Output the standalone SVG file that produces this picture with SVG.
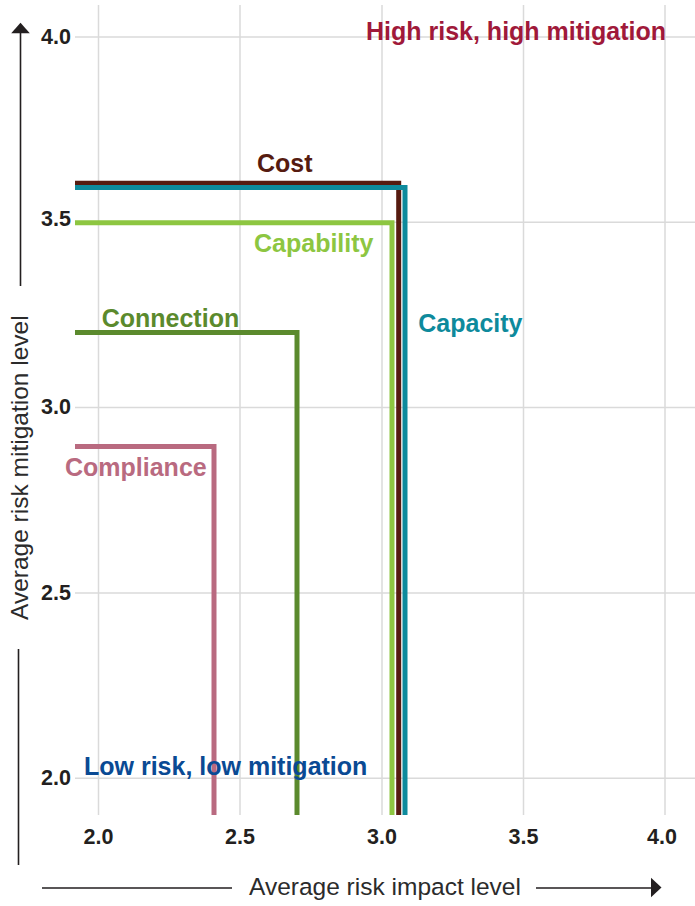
<svg xmlns="http://www.w3.org/2000/svg" width="695" height="906" viewBox="0 0 695 906">
<style>
.grid{stroke:#dadada;stroke-width:1.5;fill:none}
.tick{font-family:"Liberation Sans",Arial,sans-serif;font-weight:bold;font-size:21.5px;fill:#231f20}
.ax{font-family:"Liberation Sans",Arial,sans-serif;font-size:24.5px;fill:#2b2b2b}
.axl{stroke:#231f20;stroke-width:1.6;fill:none}
.lbl{font-family:"Liberation Sans",Arial,sans-serif;font-weight:bold;font-size:25px}
.ser{fill:none;stroke-width:5;stroke-linejoin:miter}
</style>
<rect width="695" height="906" fill="#ffffff"/>
<g id="grid">
<path class="grid" d="M98.5,5V815M240,5V815M382,5V815M523.5,5V815M665,5V815"/>
<path class="grid" d="M75,37H695M75,222.3H695M75,407.6H695M75,593H695M75,778.3H695"/>
</g>
<g id="y-ticks" class="tick" text-anchor="end">
<text x="71" y="44">4.0</text>
<text x="71" y="225.5">3.5</text>
<text x="71" y="414">3.0</text>
<text x="71" y="599.5">2.5</text>
<text x="71" y="785">2.0</text>
</g>
<g id="x-ticks" class="tick" text-anchor="middle">
<text x="98.5" y="844">2.0</text>
<text x="240" y="844">2.5</text>
<text x="382" y="844">3.0</text>
<text x="523.5" y="844">3.5</text>
<text x="662" y="844">4.0</text>
</g>
<g id="axes">
<path class="axl" d="M20.5,30V286M18.5,649V865"/>
<polygon points="20.5,22.7 11.2,33.3 29.8,33.3" fill="#231f20"/>
<path class="axl" d="M42,888H232M536,888H652"/>
<polygon points="661.5,887.5 651,877.7 651,897.3" fill="#231f20"/>
<text class="ax" x="249" y="895">Average risk impact level</text>
<text class="ax" transform="translate(28,620) rotate(-90)" x="0" y="0">Average risk mitigation level</text>
</g>
<g id="connectors">
<path id="compliance-line" class="ser" stroke="#b96a80" d="M75,446.5H214V815"/>
<path id="connection-line" class="ser" stroke="#5b8a2d" d="M75,332.5H297V815"/>
<path id="capability-line" class="ser" stroke="#8dc641" d="M75,222.8H392V815"/>
<path id="cost-line" class="ser" stroke="#561b10" d="M75,183.2H398.7V815"/>
<path id="capacity-line" class="ser" stroke="#0e8a9c" d="M75,187.6H405V815"/>
</g>
<g id="high-risk"><text class="lbl" x="366" y="39.5" fill="#a0193a">High risk, high mitigation</text></g>
<g id="low-risk"><text class="lbl" x="84" y="775" fill="#0a4a94">Low risk, low mitigation</text></g>
<g id="cost"><text class="lbl" x="257" y="172" fill="#561b10">Cost</text></g>
<g id="capability"><text class="lbl" x="254" y="251.7" fill="#8dc641">Capability</text></g>
<g id="capacity"><text class="lbl" x="418.3" y="331.7" fill="#0e8a9c">Capacity</text></g>
<g id="connection"><text class="lbl" x="101.7" y="327.3" fill="#5b8a2d">Connection</text></g>
<g id="compliance"><text class="lbl" x="65" y="475.7" fill="#b96a80">Compliance</text></g>
</svg>
